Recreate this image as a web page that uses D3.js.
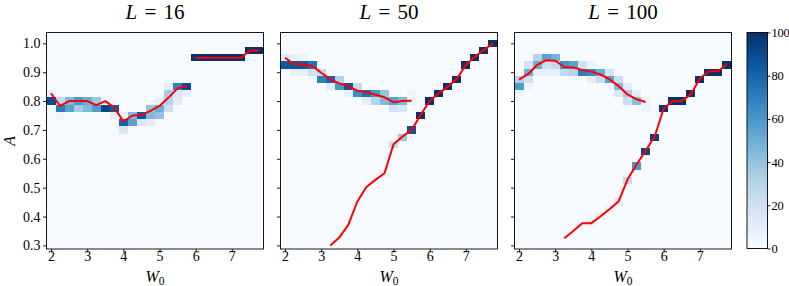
<!DOCTYPE html>
<html>
<head>
<meta charset="utf-8">
<script src="https://cdn.jsdelivr.net/npm/d3@7"></script>
<style>
  body { margin: 0; background: #fff; }
  text { font-family: "Liberation Serif", "DejaVu Serif", serif; fill: #000; }
</style>
</head>
<body>
<svg id="chart" width="789" height="286"></svg>
<script>
// column centres (W0) and row centres (A) of the histogram grid
const w0Bins = [2, 2.25, 2.5, 2.75, 3, 3.25, 3.5, 3.75, 4, 4.25, 4.5, 4.75,
  5, 5.25, 5.5, 5.75, 6, 6.25, 6.5, 6.75, 7, 7.25, 7.5, 7.75];
const aBins = [0.3, 0.325, 0.35, 0.375, 0.4, 0.425, 0.45, 0.475, 0.5, 0.525,
  0.55, 0.575, 0.6, 0.625, 0.65, 0.675, 0.7, 0.725, 0.75, 0.775, 0.8, 0.825,
  0.85, 0.875, 0.9, 0.925, 0.95, 0.975, 1.0, 1.025];

const xTicks = [2, 3, 4, 5, 6, 7];
const yTicks = [0.3, 0.4, 0.5, 0.6, 0.7, 0.8, 0.9, 1.0];
const cbTicks = [0, 20, 40, 60, 80, 100];
const titles = ['16', '50', '100'];

// non-empty cells: [W0, A, percent]
const cells16 = [
  [2, 0.8, 90], [2, 0.825, 8],
  [2.25, 0.775, 70], [2.25, 0.8, 25], [2.25, 0.75, 4],
  [2.5, 0.8, 45], [2.5, 0.775, 55],
  [2.75, 0.8, 60], [2.75, 0.775, 35],
  [3, 0.8, 50], [3, 0.775, 45],
  [3.25, 0.8, 38], [3.25, 0.775, 58],
  [3.5, 0.775, 92], [3.5, 0.8, 6],
  [3.75, 0.775, 85], [3.75, 0.75, 10],
  [4, 0.725, 80], [4, 0.75, 8], [4, 0.7, 15],
  [4.25, 0.75, 45], [4.25, 0.725, 55],
  [4.5, 0.75, 85], [4.5, 0.725, 15],
  [4.75, 0.775, 40], [4.75, 0.75, 45], [4.75, 0.725, 10],
  [5, 0.775, 50], [5, 0.75, 40], [5, 0.8, 8],
  [5.25, 0.8, 30], [5.25, 0.825, 35], [5.25, 0.775, 22], [5.25, 0.85, 10],
  [5.5, 0.85, 70], [5.5, 0.825, 15], [5.5, 0.8, 12],
  [5.75, 0.85, 90], [5.75, 0.825, 10],
  [6, 0.95, 100], [6.25, 0.95, 100], [6.5, 0.95, 100], [6.75, 0.95, 100],
  [7, 0.95, 100], [7.25, 0.95, 100], [7.5, 0.975, 100], [7.75, 0.975, 100],
];

const cells50 = [
  [2, 0.925, 85], [2, 0.95, 12],
  [2.25, 0.925, 85], [2.25, 0.95, 8], [2.25, 0.9, 8],
  [2.5, 0.925, 85], [2.5, 0.9, 8], [2.5, 0.95, 5],
  [2.75, 0.925, 75], [2.75, 0.9, 20],
  [3, 0.875, 70], [3, 0.9, 25],
  [3.25, 0.875, 80], [3.25, 0.85, 10],
  [3.5, 0.85, 60], [3.5, 0.875, 30],
  [3.75, 0.85, 85], [3.75, 0.825, 8],
  [4, 0.825, 65], [4, 0.85, 25],
  [4.25, 0.825, 75], [4.25, 0.8, 10],
  [4.5, 0.825, 60], [4.5, 0.8, 30], [4.5, 0.525, 6],
  [4.75, 0.825, 40], [4.75, 0.8, 45], [4.75, 0.55, 8],
  [5, 0.8, 55], [5, 0.775, 20], [5, 0.65, 22],
  [5.25, 0.8, 45], [5.25, 0.775, 15], [5.25, 0.675, 38],
  [5.5, 0.8, 6], [5.5, 0.825, 5], [5.5, 0.7, 88],
  [5.75, 0.75, 100], [6, 0.8, 100], [6.25, 0.825, 100], [6.5, 0.85, 100],
  [6.75, 0.875, 100], [7, 0.925, 100], [7.25, 0.95, 100], [7.5, 0.975, 100],
  [7.75, 1.0, 100],
];

const cells100 = [
  [2, 0.85, 58], [2, 0.875, 30], [2, 0.825, 5],
  [2.25, 0.9, 50], [2.25, 0.875, 20], [2.25, 0.925, 20], [2.25, 0.85, 5],
  [2.5, 0.95, 30], [2.5, 0.925, 50], [2.5, 0.9, 8],
  [2.75, 0.95, 55], [2.75, 0.925, 20], [2.75, 0.9, 8],
  [3, 0.95, 48], [3, 0.925, 25], [3, 0.9, 8],
  [3.25, 0.925, 62], [3.25, 0.9, 25],
  [3.5, 0.925, 55], [3.5, 0.9, 30],
  [3.75, 0.925, 20], [3.75, 0.9, 70],
  [4, 0.9, 65], [4, 0.875, 10], [4, 0.925, 6], [4, 0.375, 5],
  [4.25, 0.9, 50], [4.25, 0.875, 25], [4.25, 0.4, 8],
  [4.5, 0.875, 55], [4.5, 0.9, 18], [4.5, 0.425, 8],
  [4.75, 0.85, 45], [4.75, 0.875, 22], [4.75, 0.825, 15], [4.75, 0.45, 12],
  [5, 0.825, 35], [5, 0.8, 22], [5, 0.85, 10], [5, 0.525, 25],
  [5.25, 0.8, 42], [5.25, 0.825, 10], [5.25, 0.575, 60],
  [5.5, 0.8, 8], [5.5, 0.775, 6], [5.5, 0.625, 92],
  [5.75, 0.675, 95], [6, 0.775, 98], [6.25, 0.8, 100], [6.5, 0.8, 100],
  [6.75, 0.825, 100], [7, 0.875, 100], [7.25, 0.9, 100], [7.5, 0.9, 100],
  [7.75, 0.925, 100],
];

// red curves: [W0, A]
const line16a = [[2, 0.827], [2.25, 0.783], [2.5, 0.8], [2.75, 0.8], [3, 0.8],
  [3.25, 0.786], [3.5, 0.8], [3.75, 0.778], [4, 0.729], [4.25, 0.75], [4.5, 0.752],
  [4.75, 0.766], [5, 0.783], [5.25, 0.812], [5.5, 0.844], [5.75, 0.852]];
const line16b = [[6, 0.95], [6.25, 0.95], [6.5, 0.95], [6.75, 0.95], [7, 0.95],
  [7.25, 0.95], [7.5, 0.975], [7.75, 0.975]];
const line50a = [[2, 0.95], [2.25, 0.928], [2.5, 0.927], [2.75, 0.922], [3, 0.898],
  [3.25, 0.876], [3.5, 0.861], [3.75, 0.852], [4, 0.836], [4.25, 0.831],
  [4.5, 0.822], [4.75, 0.813], [5, 0.796], [5.25, 0.8], [5.5, 0.801]];
const line50b = [[3.25, 0.3], [3.5, 0.327], [3.75, 0.371], [4, 0.452], [4.25, 0.502],
  [4.5, 0.527], [4.75, 0.55], [5, 0.65], [5.25, 0.677], [5.5, 0.7], [5.75, 0.752],
  [6, 0.8], [6.25, 0.827], [6.5, 0.85], [6.75, 0.877], [7, 0.925], [7.25, 0.954],
  [7.5, 0.977], [7.75, 1.0]];
const line100a = [[2, 0.874], [2.25, 0.893], [2.5, 0.925], [2.75, 0.941], [3, 0.94],
  [3.25, 0.918], [3.5, 0.916], [3.75, 0.908], [4, 0.902], [4.25, 0.892],
  [4.5, 0.876], [4.75, 0.852], [5, 0.823], [5.25, 0.806], [5.5, 0.797]];
const line100b = [[3.25, 0.325], [3.5, 0.35], [3.75, 0.377], [4, 0.377], [4.25, 0.4],
  [4.5, 0.425], [4.75, 0.452], [5, 0.528], [5.25, 0.58], [5.5, 0.628], [5.75, 0.677],
  [6, 0.774], [6.25, 0.8], [6.5, 0.8], [6.75, 0.823], [7, 0.878], [7.25, 0.903],
  [7.5, 0.903], [7.75, 0.927]];

const panels = [
  { title: titles[0], cells: cells16, lines: [line16a, line16b] },
  { title: titles[1], cells: cells50, lines: [line50a, line50b] },
  { title: titles[2], cells: cells100, lines: [line100a, line100b] },
];

// layout
const panelLefts = [46.5, 280.5, 514.5];
const plotTop = 32.5, pw = 217, ph = 216.5;
const cb = { x: 747, w: 20.5, y: 32.5, h: 216 };

const svg = d3.select('#chart');
const color = d3.scaleSequential(d3.interpolateBlues).domain([0, 100]);

const x = d3.scaleLinear().domain([1.875, 7.875]).range([0, pw]);
const y = d3.scaleLinear().domain([0.2875, 1.0375]).range([ph, 0]);
const line = d3.line().x((d) => x(d[0])).y((d) => y(d[1]));

panels.forEach((p, i) => {
  const g = svg.append('g').attr('transform', `translate(${panelLefts[i]},${plotTop})`);

  const lookup = new Map(p.cells.map((d) => [`${d[0]}|${d[1]}`, d[2]]));
  const grid = [];
  w0Bins.forEach((w) => aBins.forEach((a) => grid.push([w, a, lookup.get(`${w}|${a}`) ?? 0])));

  g.append('g')
    .attr('shape-rendering', 'crispEdges')
    .selectAll('rect')
    .data(grid)
    .join('rect')
    .attr('x', (d) => x(d[0] - 0.125))
    .attr('y', (d) => y(d[1] + 0.0125))
    .attr('width', (d) => x(d[0] + 0.125) - x(d[0] - 0.125))
    .attr('height', (d) => y(d[1] - 0.0125) - y(d[1] + 0.0125))
    .attr('fill', (d) => color(d[2]));

  p.lines.forEach((l) => {
    g.append('path')
      .datum(l)
      .attr('d', line)
      .attr('fill', 'none')
      .attr('stroke', '#ff0000')
      .attr('stroke-width', 2)
      .attr('stroke-linejoin', 'round');
  });

  const xa = g.append('g')
    .attr('transform', `translate(0,${ph})`)
    .call(d3.axisBottom(x).tickValues(xTicks).tickSize(3.5).tickFormat(d3.format('d')));
  xa.select('.domain').remove();
  xa.attr('font-family', null);
  xa.selectAll('text').attr('y', 11.5).attr('dy', 0).style('font-size', '14px');

  const ya = g.append('g')
    .call(d3.axisLeft(y).tickValues(yTicks).tickSize(3.5).tickPadding(2.5)
      .tickFormat(i === 0 ? d3.format('.1f') : () => ''));
  ya.select('.domain').remove();
  ya.attr('font-family', null);
  ya.selectAll('text').style('font-size', '14px');
  g.selectAll('.tick line').attr('stroke-width', 0.9);

  g.append('rect')
    .attr('width', pw).attr('height', ph)
    .attr('fill', 'none').attr('stroke', '#000').attr('stroke-width', 0.9);

  const t = g.append('text')
    .attr('x', pw / 2).attr('y', 18.5 - plotTop)
    .attr('text-anchor', 'middle')
    .style('font-size', '21px')
    .style('word-spacing', '2px');
  t.append('tspan').attr('font-style', 'italic').text('L');
  t.append('tspan').text(` = ${p.title}`);

  const xl = g.append('text')
    .attr('x', pw / 2).attr('y', 282 - plotTop)
    .attr('text-anchor', 'middle')
    .style('font-size', '16px');
  xl.append('tspan').attr('font-style', 'italic').text('W');
  xl.append('tspan').attr('dy', 3).style('font-size', '11.5px').text('0');
});

// y label
svg.append('text')
  .attr('transform', `translate(15,${plotTop + ph / 2}) rotate(-90)`)
  .attr('text-anchor', 'middle')
  .attr('font-style', 'italic')
  .style('font-size', '16px')
  .text('A');

// colorbar
const cbScale = d3.scaleLinear().domain([0, 100]).range([cb.h, 0]);
const defs = svg.append('defs');
const grad = defs.append('linearGradient').attr('id', 'cbgrad')
  .attr('x1', 0).attr('y1', 1).attr('x2', 0).attr('y2', 0);
grad.selectAll('stop')
  .data(d3.range(0, 1.0001, 0.05))
  .join('stop')
  .attr('offset', (d) => d)
  .attr('stop-color', (d) => color(d * 100));

const cbg = svg.append('g').attr('transform', `translate(${cb.x},${cb.y})`);
cbg.append('rect').attr('width', cb.w).attr('height', cb.h).attr('fill', 'url(#cbgrad)');
const cba = cbg.append('g')
  .attr('transform', `translate(${cb.w},0)`)
  .call(d3.axisRight(cbScale).tickValues(cbTicks).tickSize(3).tickPadding(1));
cba.select('.domain').remove();
cba.attr('font-family', null);
cba.selectAll('text').style('font-size', '12.5px').style('letter-spacing', '-0.3px');
cba.selectAll('line').attr('stroke-width', 0.9);
cbg.append('rect').attr('width', cb.w).attr('height', cb.h)
  .attr('fill', 'none').attr('stroke', '#000').attr('stroke-width', 0.9);
</script>
</body>
</html>
